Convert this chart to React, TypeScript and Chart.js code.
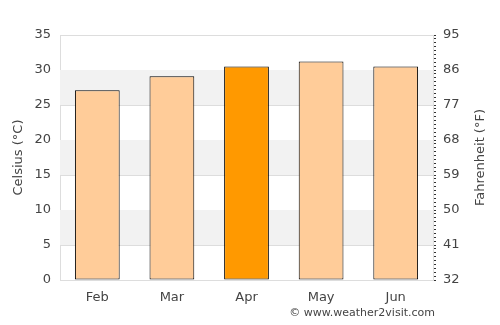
import React, { useEffect, useRef } from "react";
import { Chart, registerables } from "chart.js";

Chart.register(...registerables);

const months = ["Feb", "Mar", "Apr", "May", "Jun"];
const celsius = [27.1, 29.1, 30.5, 31.2, 30.5];
const highlightMonth = "Apr";
const celsiusTicks = [0, 5, 10, 15, 20, 25, 30, 35];
const fahrenheitLabels = [32, 41, 50, 59, 68, 77, 86, 95];
const greyBands = [[5, 10], [15, 20], [25, 30]];

const FONT = "'DejaVu Sans', sans-serif";
const TEXT = "#444";

const bandsPlugin = {
  id: "bands",
  beforeDatasetsDraw(chart: any) {
    const { ctx, chartArea, scales } = chart;
    const y = scales.y;
    ctx.save();
    ctx.fillStyle = "#f2f2f2";
    for (const [a, b] of greyBands) {
      const top = y.getPixelForValue(b);
      const bot = y.getPixelForValue(a);
      ctx.fillRect(chartArea.left, top, chartArea.right - chartArea.left, bot - top);
    }
    ctx.restore();
  },
  afterDraw(chart: any) {
    const { ctx, chartArea } = chart;
    ctx.save();
    ctx.fillStyle = TEXT;
    ctx.font = `13px ${FONT}`;
    ctx.textAlign = "center";
    ctx.textBaseline = "middle";
    ctx.translate(481, (chartArea.top + chartArea.bottom) / 2);
    ctx.rotate(-Math.PI / 2);
    ctx.fillText("Fahrenheit (°F)", 0, 0);
    ctx.restore();
  },
};

export default function App() {
  const ref = useRef<HTMLCanvasElement>(null);
  useEffect(() => {
    const chart = new Chart(ref.current!, {
      type: "bar",
      data: {
        labels: months,
        datasets: [
          {
            data: celsius,
            backgroundColor: months.map((m) => (m === highlightMonth ? "#ff9900" : "#ffcc99")),
            borderColor: "#000",
            borderWidth: 1,
            borderSkipped: false,
            barPercentage: 0.6,
            categoryPercentage: 1,
          },
        ],
      },
      options: {
        animation: false,
        responsive: false,
        maintainAspectRatio: false,
        layout: { padding: { top: 35, right: 0, left: 0, bottom: 0 } },
        plugins: { legend: { display: false }, tooltip: { enabled: false } },
        scales: {
          x: {
            offset: true,
            grid: { display: false, drawTicks: false },
            border: { display: false },
            ticks: { color: TEXT, font: { family: FONT, size: 13 }, padding: 10 },
            afterFit(s: any) { s.height = 45; },
          },
          y: {
            position: "left",
            min: 0,
            max: 35,
            afterBuildTicks(s: any) { s.ticks = celsiusTicks.map((v) => ({ value: v })); },
            grid: { color: "#dddddd", drawTicks: false },
            border: { color: "#dddddd" },
            ticks: { color: TEXT, font: { family: FONT, size: 13 }, padding: 9 },
            title: {
              display: true,
              text: "Celsius (°C)",
              color: TEXT,
              font: { family: FONT, size: 13 },
              padding: { top: 11, bottom: 0 },
            },
            afterFit(s: any) { s.width = 60; },
          },
          y1: {
            position: "right",
            min: 32,
            max: 95,
            afterBuildTicks(s: any) {
              const arr = [];
              for (let v = 32; v <= 95; v++) arr.push({ value: v });
              s.ticks = arr;
            },
            grid: { drawOnChartArea: false, color: "#333", tickLength: 3 },
            border: { color: "#dddddd" },
            ticks: {
              autoSkip: false,
              color: TEXT,
              font: { family: FONT, size: 13 },
              padding: 7,
              callback: (v: any) => (fahrenheitLabels.includes(Number(v)) ? String(v) : ""),
            },
            afterFit(s: any) { s.width = 67; },
          },
        },
      },
      plugins: [bandsPlugin],
    });
    return () => chart.destroy();
  }, []);
  return (
    <div style={{ position: "fixed", left: 0, top: 0, width: 500, height: 325, background: "#fff" }}>
      <canvas ref={ref} width={500} height={325} style={{ display: "block" }} />
      <div
        style={{
          position: "absolute",
          right: 65,
          top: 306,
          fontFamily: FONT,
          fontSize: 11,
          color: TEXT,
          whiteSpace: "nowrap",
        }}
      >
        © www.weather2visit.com
      </div>
    </div>
  );
}
